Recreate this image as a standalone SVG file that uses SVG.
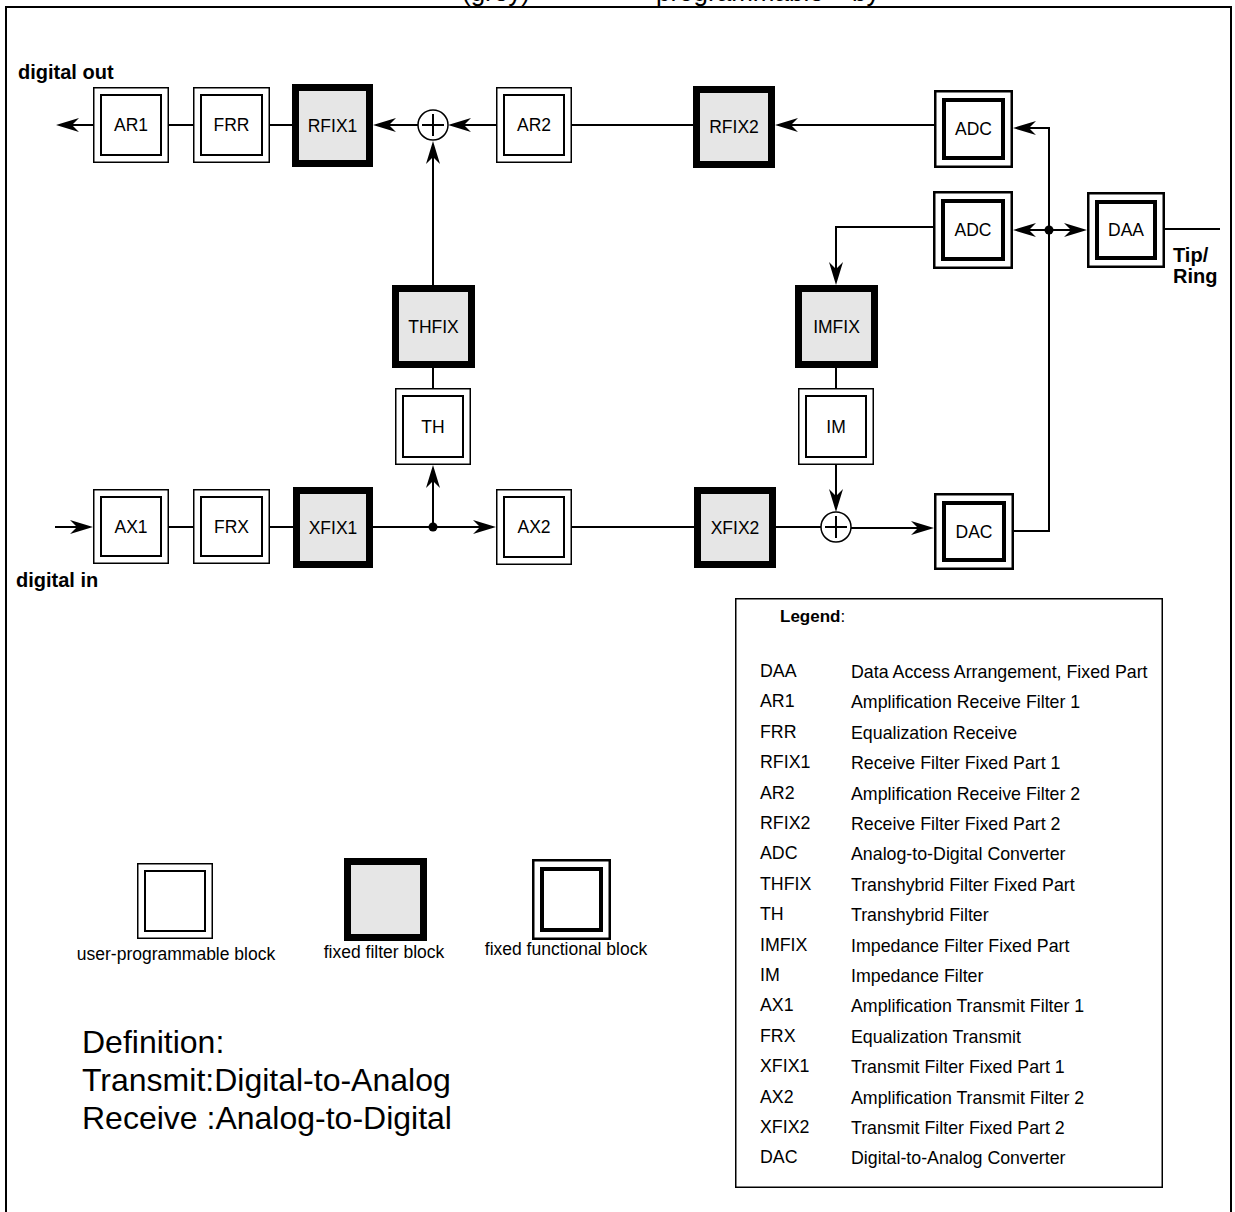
<svg xmlns="http://www.w3.org/2000/svg" width="1235" height="1212" viewBox="0 0 1235 1212">
<style>
text{font-family:"Liberation Sans",Arial,sans-serif;fill:#000}
.lbl{font-size:17.5px;text-anchor:middle}
.bold{font-size:20px;font-weight:bold}
.leg{font-size:17.8px}
.def{font-size:32px}
.up-o{fill:#fff;stroke:#000;stroke-width:1.5}
.up-i{fill:none;stroke:#000;stroke-width:2}
.ff{fill:#e6e6e6;stroke:#000;stroke-width:7}
.fn-o{fill:#fff;stroke:#000;stroke-width:2.5}
.fn-i{fill:none;stroke:#000;stroke-width:4}
.ln{fill:none;stroke:#000;stroke-width:2}
.arr{fill:none;stroke:#000;stroke-width:2;marker-end:url(#ah)}
.sum{fill:#fff;stroke:#000;stroke-width:1.5}
</style>
<defs>
<marker id="ah" viewBox="-24 -8 25 16" refX="-3" refY="0" markerWidth="25" markerHeight="16" markerUnits="userSpaceOnUse" orient="auto">
<path d="M0,0 L-23,-7 L-16,0 L-23,7 Z" fill="#000"/>
</marker>
</defs>
<rect width="1235" height="1212" fill="#fff"/>
<g id="frame">
<path d="M6,1215 V7 H1231 V1215" fill="none" stroke="#000" stroke-width="2"/>
<text style="font-size:26px" y="1"><tspan x="462">(grey)</tspan><tspan x="656">programmable</tspan><tspan x="852">by</tspan></text>
</g>
<g id="connectors">
<line class="arr" x1="93" y1="125" x2="59" y2="125"/>
<line class="ln" x1="169" y1="125" x2="193" y2="125"/>
<line class="ln" x1="270" y1="125" x2="292" y2="125"/>
<line class="arr" x1="418" y1="125" x2="376" y2="125"/>
<line class="arr" x1="496" y1="125" x2="451" y2="125"/>
<line class="ln" x1="572" y1="125" x2="693" y2="125"/>
<line class="arr" x1="934" y1="125" x2="778" y2="125"/>
<path class="arr" d="M1014,531 H1049 V128 H1016"/>
<line class="arr" x1="1049" y1="230" x2="1016" y2="230"/>
<line class="arr" x1="1049" y1="230" x2="1084" y2="230"/>
<circle cx="1049" cy="230" r="4.5" fill="#000"/>
<line class="ln" x1="1165" y1="229" x2="1220" y2="229"/>
<path class="arr" d="M933,227 H836 V282"/>
<line class="arr" x1="433" y1="285" x2="433" y2="144"/>
<line class="ln" x1="433" y1="368" x2="433" y2="388"/>
<line class="arr" x1="433" y1="527" x2="433" y2="468"/>
<circle cx="433" cy="527" r="4.5" fill="#000"/>
<line class="ln" x1="836" y1="368" x2="836" y2="388"/>
<line class="arr" x1="836" y1="465" x2="836" y2="509"/>
<line class="arr" x1="55" y1="527" x2="90" y2="527"/>
<line class="ln" x1="169" y1="527" x2="193" y2="527"/>
<line class="ln" x1="270" y1="527" x2="293" y2="527"/>
<line class="arr" x1="373" y1="527" x2="493" y2="527"/>
<line class="ln" x1="572" y1="527" x2="694" y2="527"/>
<line class="ln" x1="776" y1="527" x2="821" y2="527"/>
<line class="arr" x1="851" y1="528" x2="931" y2="528"/>
</g>
<g id="sum1"><circle class="sum" cx="433" cy="125" r="15"/><path class="ln" d="M422,125 H444 M433,114 V136"/></g>
<g id="sum2"><circle class="sum" cx="836" cy="527" r="15"/><path class="ln" d="M825,527 H847 M836,516 V538"/></g>
<g id="AR1"><rect class="up-o" x="93.75" y="87.75" width="74.5" height="74.5"/><rect class="up-i" x="101" y="95" width="60" height="60"/><text class="lbl" x="131" y="131">AR1</text></g>
<g id="FRR"><rect class="up-o" x="193.75" y="87.75" width="75.5" height="74.5"/><rect class="up-i" x="201" y="95" width="61" height="60"/><text class="lbl" x="231.5" y="131">FRR</text></g>
<g id="RFIX1"><rect class="ff" x="295.5" y="87.5" width="74" height="76"/><text class="lbl" x="332.5" y="131.5">RFIX1</text></g>
<g id="AR2"><rect class="up-o" x="496.75" y="87.75" width="74.5" height="74.5"/><rect class="up-i" x="504" y="95" width="60" height="60"/><text class="lbl" x="534" y="131">AR2</text></g>
<g id="RFIX2"><rect class="ff" x="696.5" y="89.5" width="75" height="75"/><text class="lbl" x="734" y="133">RFIX2</text></g>
<g id="ADC1"><rect class="fn-o" x="935.25" y="91.25" width="76.5" height="75.5"/><rect class="fn-i" x="944" y="100" width="59" height="58"/><text class="lbl" x="973.5" y="135">ADC</text></g>
<g id="ADC2"><rect class="fn-o" x="934.25" y="192.25" width="77.5" height="75.5"/><rect class="fn-i" x="943" y="201" width="60" height="58"/><text class="lbl" x="973" y="236">ADC</text></g>
<g id="DAA"><rect class="fn-o" x="1088.25" y="193.25" width="75.5" height="73.5"/><rect class="fn-i" x="1097" y="202" width="58" height="56"/><text class="lbl" x="1126" y="236">DAA</text></g>
<g id="THFIX"><rect class="ff" x="395.5" y="288.5" width="76" height="76"/><text class="lbl" x="433.5" y="332.5">THFIX</text></g>
<g id="IMFIX"><rect class="ff" x="798.5" y="288.5" width="76" height="76"/><text class="lbl" x="836.5" y="332.5">IMFIX</text></g>
<g id="TH"><rect class="up-o" x="395.75" y="388.75" width="74.5" height="75.5"/><rect class="up-i" x="403" y="396" width="60" height="61"/><text class="lbl" x="433" y="432.5">TH</text></g>
<g id="IM"><rect class="up-o" x="798.75" y="388.75" width="74.5" height="75.5"/><rect class="up-i" x="806" y="396" width="60" height="61"/><text class="lbl" x="836" y="432.5">IM</text></g>
<g id="AX1"><rect class="up-o" x="93.75" y="489.75" width="74.5" height="73.5"/><rect class="up-i" x="101" y="497" width="60" height="59"/><text class="lbl" x="131" y="532.5">AX1</text></g>
<g id="FRX"><rect class="up-o" x="193.75" y="489.75" width="75.5" height="73.5"/><rect class="up-i" x="201" y="497" width="61" height="59"/><text class="lbl" x="231.5" y="532.5">FRX</text></g>
<g id="XFIX1"><rect class="ff" x="296.5" y="490.5" width="73" height="74"/><text class="lbl" x="333" y="533.5">XFIX1</text></g>
<g id="AX2"><rect class="up-o" x="496.75" y="489.75" width="74.5" height="74.5"/><rect class="up-i" x="504" y="497" width="60" height="60"/><text class="lbl" x="534" y="533">AX2</text></g>
<g id="XFIX2"><rect class="ff" x="697.5" y="490.5" width="75" height="74"/><text class="lbl" x="735" y="533.5">XFIX2</text></g>
<g id="DAC"><rect class="fn-o" x="935.25" y="494.25" width="77.5" height="74.5"/><rect class="fn-i" x="944" y="503" width="60" height="57"/><text class="lbl" x="974" y="537.5">DAC</text></g>
<g id="io-labels">
<text class="bold" x="18" y="79">digital out</text>
<text class="bold" x="16" y="587">digital in</text>
<text class="bold" x="1173" y="262">Tip/</text>
<text class="bold" x="1173" y="283">Ring</text>
</g>
<g id="block-legend">
<rect class="up-o" x="137.75" y="863.75" width="74.5" height="74.5"/><rect class="up-i" x="145" y="871" width="60" height="60"/>
<text class="lbl" x="176" y="960">user-programmable block</text>
<rect class="ff" x="347.5" y="861.5" width="76" height="76"/>
<text class="lbl" x="384" y="958">fixed filter block</text>
<rect class="fn-o" x="533.25" y="860.25" width="76.5" height="78.5"/><rect class="fn-i" x="542" y="869" width="59" height="61"/>
<text class="lbl" x="566" y="955">fixed functional block</text>
</g>
<g id="definition">
<text class="def" x="82" y="1053">Definition:</text>
<text class="def" x="82" y="1091">Transmit:Digital-to-Analog</text>
<text class="def" x="82" y="1129">Receive :Analog-to-Digital</text>
</g>
<g id="legend">
<rect x="735.75" y="598.75" width="426.5" height="588.5" fill="none" stroke="#000" stroke-width="1.5"/>
<text x="780" y="622" style="font-size:17px"><tspan font-weight="bold">Legend</tspan>:</text>
<g>
<text class="leg" x="760" y="677">DAA</text><text class="leg" x="851" y="678">Data Access Arrangement, Fixed Part</text>
<text class="leg" x="760" y="707.4">AR1</text><text class="leg" x="851" y="708.4">Amplification Receive Filter 1</text>
<text class="leg" x="760" y="737.8">FRR</text><text class="leg" x="851" y="738.8">Equalization Receive</text>
<text class="leg" x="760" y="768.2">RFIX1</text><text class="leg" x="851" y="769.2">Receive Filter Fixed Part 1</text>
<text class="leg" x="760" y="798.6">AR2</text><text class="leg" x="851" y="799.6">Amplification Receive Filter 2</text>
<text class="leg" x="760" y="829">RFIX2</text><text class="leg" x="851" y="830">Receive Filter Fixed Part 2</text>
<text class="leg" x="760" y="859.4">ADC</text><text class="leg" x="851" y="860.4">Analog-to-Digital Converter</text>
<text class="leg" x="760" y="889.8">THFIX</text><text class="leg" x="851" y="890.8">Transhybrid Filter Fixed Part</text>
<text class="leg" x="760" y="920.2">TH</text><text class="leg" x="851" y="921.2">Transhybrid Filter</text>
<text class="leg" x="760" y="950.6">IMFIX</text><text class="leg" x="851" y="951.6">Impedance Filter Fixed Part</text>
<text class="leg" x="760" y="981">IM</text><text class="leg" x="851" y="982">Impedance Filter</text>
<text class="leg" x="760" y="1011.4">AX1</text><text class="leg" x="851" y="1012.4">Amplification Transmit Filter 1</text>
<text class="leg" x="760" y="1041.8">FRX</text><text class="leg" x="851" y="1042.8">Equalization Transmit</text>
<text class="leg" x="760" y="1072.2">XFIX1</text><text class="leg" x="851" y="1073.2">Transmit Filter Fixed Part 1</text>
<text class="leg" x="760" y="1102.6">AX2</text><text class="leg" x="851" y="1103.6">Amplification Transmit Filter 2</text>
<text class="leg" x="760" y="1133">XFIX2</text><text class="leg" x="851" y="1134">Transmit Filter Fixed Part 2</text>
<text class="leg" x="760" y="1163.4">DAC</text><text class="leg" x="851" y="1164.4">Digital-to-Analog Converter</text>
</g>
</g>
</svg>
